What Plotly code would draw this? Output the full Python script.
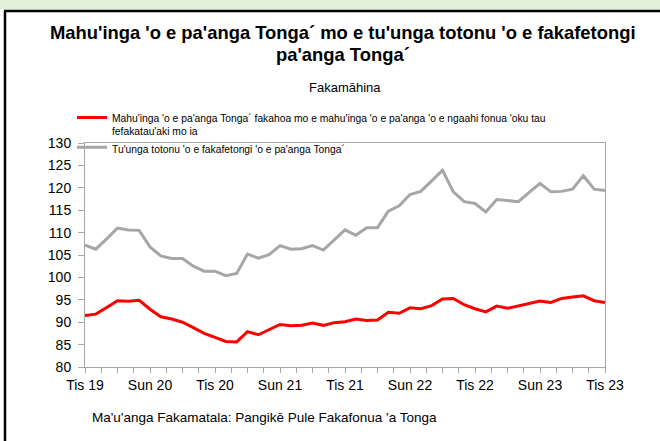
import plotly.graph_objects as go

months = list(range(49))  # Dec 2019 .. Dec 2023, monthly
tick_positions = [0, 6, 12, 18, 24, 30, 36, 42, 48]
tick_labels = ["Tis 19", "Sun 20", "Tis 20", "Sun 21", "Tis 21", "Sun 22", "Tis 22", "Sun 23", "Tis 23"]

real_index = [91.5, 91.8, 93.3, 94.8, 94.7, 94.9, 92.9, 91.2, 90.7, 90.0,
              88.8, 87.5, 86.6, 85.7, 85.6, 87.9, 87.2, 88.3, 89.5, 89.2,
              89.3, 89.8, 89.3, 89.9, 90.1, 90.7, 90.4, 90.5, 92.2, 92.0,
              93.2, 93.0, 93.7, 95.2, 95.3, 93.9, 93.0, 92.3, 93.6, 93.1,
              93.6, 94.2, 94.7, 94.4, 95.3, 95.6, 95.9, 94.8, 94.4]
nominal_index = [107.2, 106.3, 108.6, 111.0, 110.6, 110.5, 106.8, 104.8, 104.2, 104.2,
                 102.5, 101.4, 101.4, 100.4, 100.9, 105.2, 104.3, 105.1, 107.1, 106.3,
                 106.4, 107.1, 106.1, 108.3, 110.6, 109.4, 111.1, 111.1, 114.8, 116.0,
                 118.5, 119.2, 121.5, 123.9, 119.1, 116.9, 116.5, 114.6, 117.4, 117.2,
                 116.9, 119.0, 121.0, 119.1, 119.2, 119.7, 122.7, 119.7, 119.4]

name_real = "Mahu'inga 'o e pa'anga Tonga´ fakahoa mo e mahu'inga 'o e pa'anga 'o e ngaahi fonua 'oku tau<br>fefakatau'aki mo ia"
name_nominal = "Tu'unga totonu 'o e fakafetongi 'o e pa'anga Tonga´"

W, H = 660, 441
L, R, T, B = 85, 605, 142.7, 367.0

def px(x):  # screen pixel -> paper x
    return (x - L) / (R - L)

def py(y):  # screen pixel -> paper y
    return (B - y) / (B - T)

fig = go.Figure()
fig.add_trace(go.Scatter(x=months, y=real_index, mode="lines", name=name_real,
                         line=dict(color="#ff0000", width=3)))
fig.add_trace(go.Scatter(x=months, y=nominal_index, mode="lines", name=name_nominal,
                         line=dict(color="#a6a6a6", width=3)))

font = "Liberation Sans, Arial, sans-serif"

shapes = [
    dict(type="rect", xref="paper", yref="paper", x0=px(-20), x1=px(700), y0=py(9), y1=py(-20),
         fillcolor="#e2efd9", line=dict(width=0), layer="below"),
    dict(type="line", xref="paper", yref="paper", x0=px(4), x1=px(700), y0=py(10.5), y1=py(10.5),
         line=dict(color="#000000", width=2.5)),
    dict(type="line", xref="paper", yref="paper", x0=px(5), x1=px(5), y0=py(10), y1=py(460),
         line=dict(color="#000000", width=2.5)),
]

annotations = [
    dict(text="<b>Mahu'inga 'o e pa'anga Tonga´ mo e tu'unga totonu 'o e fakafetongi</b>",
         xref="paper", yref="paper", x=px(343), y=py(32), xanchor="center", yanchor="middle",
         showarrow=False, font=dict(family=font, size=18.4, color="#000000")),
    dict(text="<b>pa'anga Tonga´</b>",
         xref="paper", yref="paper", x=px(343), y=py(54), xanchor="center", yanchor="middle",
         showarrow=False, font=dict(family=font, size=18.4, color="#000000")),
    dict(text="Fakamāhina",
         xref="paper", yref="paper", x=px(345), y=py(87), xanchor="center", yanchor="middle",
         showarrow=False, font=dict(family=font, size=13, color="#000000")),
    dict(text="Ma'u'anga Fakamatala: Pangikē Pule Fakafonua 'a Tonga",
         xref="paper", yref="paper", x=px(90), y=py(418), xanchor="left", yanchor="middle",
         showarrow=False, font=dict(family=font, size=13.5, color="#000000")),
]

fig.update_layout(
    width=W, height=H,
    margin=dict(l=L, r=W - R, t=T, b=H - B, pad=0),
    paper_bgcolor="#ffffff", plot_bgcolor="#ffffff",
    font=dict(family=font, color="#000000"),
    showlegend=True,
    legend=dict(x=px(72), y=py(104), xanchor="left", yanchor="top",
                bgcolor="rgba(0,0,0,0)", font=dict(family=font, size=10.3, color="#000000"),
                valign="top", itemwidth=30, tracegroupgap=1),
    shapes=shapes,
    annotations=annotations,
    xaxis=dict(range=[0, 48], tickvals=tick_positions, ticktext=tick_labels,
               showgrid=False, zeroline=False, showline=True, linecolor="#a6a6a6", linewidth=1,
               mirror=True, ticks="outside", ticklen=5, tickcolor="#a6a6a6",
               tickfont=dict(family=font, size=14, color="#000000"),
               minor=dict(dtick=1.5, tick0=0, ticks="outside", ticklen=5, tickcolor="#a6a6a6", showgrid=False)),
    yaxis=dict(range=[80, 130], dtick=5, tick0=80,
               showgrid=False, zeroline=False, showline=True, linecolor="#a6a6a6", linewidth=1,
               mirror=True, ticks="outside", ticklen=6, tickcolor="#a6a6a6", ticklabelstandoff=4,
               tickfont=dict(family=font, size=14, color="#000000")),
)

fig.write_html("out.html", config={"displayModeBar": False},
               post_script="document.body.style.margin='0';document.body.style.overflow='hidden';")
